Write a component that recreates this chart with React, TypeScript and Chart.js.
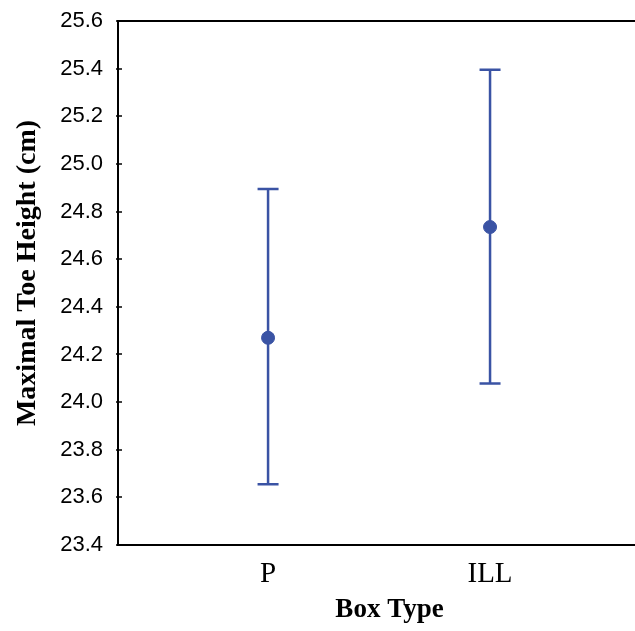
import React, { useEffect, useRef } from "react";
import { Chart, registerables } from "chart.js";

Chart.register(...registerables);

const categories = ["P", "ILL"];
const means = [24.27, 24.735];
const lowers = [23.655, 24.078];
const uppers = [24.895, 25.395];
const yTicks = { min: 23.4, max: 25.6, step: 0.2 };
const xTitle = "Box Type";
const yTitle = "Maximal Toe Height (cm)";
const BLUE = "#3A53A4";

const decorPlugin = {
  id: "decor",
  beforeDatasetsDraw(chart: any) {
    const { ctx, scales } = chart;
    const xs = scales.x;
    const ys = scales.y;
    ctx.save();
    ctx.strokeStyle = BLUE;
    ctx.lineWidth = 2.5;
    for (let i = 0; i < categories.length; i++) {
      const px = xs.getPixelForValue(i + 1);
      const pLo = ys.getPixelForValue(lowers[i]);
      const pHi = ys.getPixelForValue(uppers[i]);
      ctx.beginPath();
      ctx.moveTo(px, pLo);
      ctx.lineTo(px, pHi);
      ctx.moveTo(px - 10.5, pLo);
      ctx.lineTo(px + 10.5, pLo);
      ctx.moveTo(px - 10.5, pHi);
      ctx.lineTo(px + 10.5, pHi);
      ctx.stroke();
    }
    ctx.restore();
  },
  afterDraw(chart: any) {
    const { ctx, chartArea, scales } = chart;
    const ys = scales.y;
    ctx.save();
    ctx.strokeStyle = "#000";
    ctx.lineWidth = 2;
    ctx.beginPath();
    ctx.moveTo(chartArea.left - 1, chartArea.top);
    ctx.lineTo(chart.width, chartArea.top);
    ctx.moveTo(chartArea.left - 1, chartArea.bottom);
    ctx.lineTo(chart.width, chartArea.bottom);
    ctx.stroke();
    ctx.lineWidth = 1.5;
    ys.ticks.forEach((t: any) => {
      const py = Math.round(ys.getPixelForValue(t.value));
      ctx.beginPath();
      ctx.moveTo(chartArea.left - 2, py);
      ctx.lineTo(chartArea.left + 4, py);
      ctx.stroke();
    });
    ctx.fillStyle = "#000";
    ctx.font = "bold 27px 'Liberation Serif'";
    ctx.textAlign = "center";
    ctx.textBaseline = "middle";
    ctx.fillText(xTitle, (chartArea.left + chartArea.right) / 2 + 13, chartArea.bottom + 65);
    ctx.font = "bold 28px 'Liberation Serif'";
    ctx.translate(28, (chartArea.top + chartArea.bottom) / 2 - 10);
    ctx.rotate(-Math.PI / 2);
    ctx.fillText(yTitle, 0, 0);
    ctx.restore();
  },
};

export default function App() {
  const ref = useRef<HTMLCanvasElement>(null);
  useEffect(() => {
    if (!ref.current) return;
    const chart = new Chart(ref.current, {
      type: "scatter",
      data: {
        datasets: [
          {
            data: means.map((m, i) => ({ x: i + 1, y: m })),
            backgroundColor: BLUE,
            borderColor: BLUE,
            pointRadius: 6.5,
            pointHoverRadius: 6.5,
          },
        ],
      },
      options: {
        animation: false,
        responsive: false,
        maintainAspectRatio: false,
        devicePixelRatio: 1,
        layout: { autoPadding: false, padding: { top: 21, right: 0, left: 0, bottom: 0 } },
        plugins: { legend: { display: false }, tooltip: { enabled: false } },
        scales: {
          x: {
            type: "linear",
            min: 0.324,
            max: 2.653,
            grid: { display: false },
            border: { display: true, color: "#000", width: 2 },
            afterBuildTicks: (axis: any) => {
              axis.ticks = categories.map((_, i) => ({ value: i + 1 }));
            },
            afterFit: (axis: any) => {
              axis.height = 86;
              axis.paddingLeft = 0;
              axis.paddingRight = 0;
            },
            ticks: {
              autoSkip: false,
              maxRotation: 0,
              padding: 4,
              color: "#000",
              font: { family: "'Liberation Serif'", size: 29 },
              callback: (v: any) => categories[Math.round(v) - 1] ?? "",
            },
          },
          y: {
            min: yTicks.min,
            max: yTicks.max,
            grid: { display: false },
            border: { display: true, color: "#000", width: 2 },
            afterFit: (axis: any) => {
              axis.width = 118;
              axis.paddingTop = 0;
              axis.paddingBottom = 0;
            },
            ticks: {
              stepSize: yTicks.step,
              padding: 7,
              color: "#000",
              font: { family: "'Liberation Sans'", size: 22 },
              callback: (v: any) => Number(v).toFixed(1),
            },
          },
        },
      },
      plugins: [decorPlugin],
    });
    return () => chart.destroy();
  }, []);
  return (
    <div style={{ position: "fixed", left: 0, top: 0, width: 635, height: 631 }}>
      <canvas ref={ref} width={635} height={631} style={{ display: "block" }} />
    </div>
  );
}
